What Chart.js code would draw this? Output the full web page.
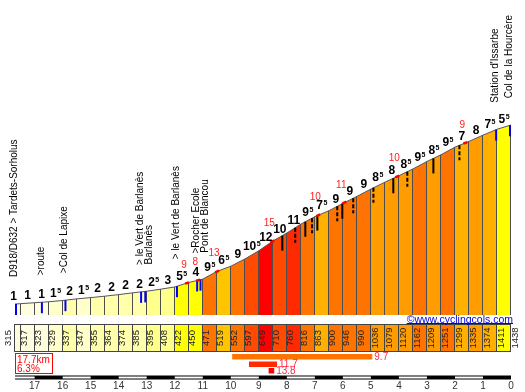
<!DOCTYPE html>
<html>
<head>
<meta charset="utf-8">
<script src="https://cdn.jsdelivr.net/npm/chart.js"></script>
<style>
body { margin: 0; background: #fff; }
canvas { display: block; }
</style>
</head>
<body>
<canvas id="perfil" width="525" height="392"></canvas>
<script>
// km restantes en cada cambio de tramo y altitud ahi
const kmMarks = [17.7, 17.5, 17, 16.5, 16, 15.5, 15, 14.5, 14, 13.5, 13, 12.5, 12, 11.5, 11, 10.5, 10, 9.5, 9, 8.5, 8, 7.5, 7, 6.5, 6, 5.5, 5, 4.5, 4, 3.5, 3, 2.5, 2, 1.5, 1, 0.5, 0];
const altitudes = [315, 317, 323, 329, 337, 347, 355, 364, 374, 385, 395, 408, 422, 450, 471, 519, 552, 597, 649, 710, 760, 816, 863, 900, 946, 990, 1036, 1079, 1120, 1162, 1209, 1251, 1299, 1335, 1374, 1411, 1438];
// pendiente media de cada tramo
const gradients = [1, 1, 1, 1.5, 2, 1.5, 2, 2, 2, 2, 2.5, 3, 5.5, 4, 9.5, 6.5, 9, 10.5, 12, 10, 11, 9.5, 7.5, 9, 9, 9, 8.5, 8, 8.5, 9.5, 8.5, 9.5, 7, 8, 7.5, 5.5];
const kmTicks = [17, 16, 15, 14, 13, 12, 11, 10, 9, 8, 7, 6, 5, 4, 3, 2, 1, 0];

const placeNames = ['D918/D632 > Tardets-Sorholus', '>route', '>Col de Lapixe', '> le Vert de Barlanès', 'Barlanès', '> le Vert de Barlanès', '>Rocher Ecole', 'Pont de Blancou', "Station d'Issarbe", 'Col de la Hourcère'];
const placeKm = [17.68, 16.74, 15.9, 13.2, 13.05, 11.92, 11.2, 11.08, 0.53, 0.03];

const hairpinKm = [8.16, 7.34, 6.91, 6.02, 4.2, 2.77];
const hairpinDashKm = [7.7, 7.1, 6.2, 5.63, 4.91, 3.7, 1.84];

// max 100 m
const steep100Km = [11.56, 11.16, 10.49, 8.52, 6.88, 5.95, 4.06, 1.63];
const steep100Val = [9, 8, 13, 15, 10, 11, 10, 9];

// tramos mas duros (5 km, 1 km, 200 m)
const steepFrom = [9.95, 9.35, 8.65];
const steepTo = [4.95, 8.35, 8.45];
const steepVal = [9.7, 11.7, 13.8];

const climbLength = 17.7;
const climbAvg = 6.3;

function colorPendiente(p) {
  if (p >= 12) return '#ff0000';
  if (p >= 11) return '#ff2a00';
  if (p >= 10) return '#ff4a00';
  if (p >= 9) return '#ff7400';
  if (p >= 8) return '#ff9c00';
  if (p >= 7) return '#ffb000';
  if (p >= 6) return '#ffc400';
  if (p >= 4) return '#ffff00';
  if (p >= 2.5) return '#ffff8c';
  if (p >= 2) return '#ffffac';
  if (p >= 1.5) return '#ffffcc';
  return '#ffffe0';
}

function altEn(k) {
  if (k >= kmMarks[0]) return altitudes[0];
  for (let i = 1; i < kmMarks.length; i++) {
    if (k >= kmMarks[i]) {
      const t = (kmMarks[i - 1] - k) / (kmMarks[i - 1] - kmMarks[i]);
      return altitudes[i - 1] + t * (altitudes[i] - altitudes[i - 1]);
    }
  }
  return altitudes[altitudes.length - 1];
}

const fuente = '"Liberation Sans", Arial, sans-serif';

const extras = {
  id: 'extras',
  afterDatasetsDraw(chart) {
    const ctx = chart.ctx;
    const xs = chart.scales.x, ys = chart.scales.y;
    const base = chart.chartArea.bottom;
    const px = k => xs.getPixelForValue(k);
    const py = k => ys.getPixelForValue(altEn(k));
    ctx.save();

    // separadores de tramos
    ctx.strokeStyle = '#4d4d4d';
    ctx.lineWidth = 1;
    for (let i = 1; i < kmMarks.length; i++) {
      const x = Math.round(px(kmMarks[i])) - 0.5;
      ctx.beginPath();
      ctx.moveTo(x, ys.getPixelForValue(altitudes[i]));
      ctx.lineTo(x, base);
      ctx.stroke();
    }

    // lugares (azul)
    ctx.strokeStyle = '#0000ff';
    ctx.lineWidth = 2;
    placeKm.forEach(k => {
      const x = Math.min(Math.max(px(k), chart.chartArea.left + 1), chart.chartArea.right - 1);
      ctx.beginPath();
      ctx.moveTo(x, py(k));
      ctx.lineTo(x, py(k) + 11);
      ctx.stroke();
    });

    // curvas
    ctx.strokeStyle = '#000';
    hairpinKm.forEach(k => {
      ctx.beginPath();
      ctx.moveTo(px(k), py(k));
      ctx.lineTo(px(k), py(k) + 15);
      ctx.stroke();
    });
    ctx.setLineDash([4, 2]);
    hairpinDashKm.forEach(k => {
      ctx.beginPath();
      ctx.moveTo(px(k), py(k));
      ctx.lineTo(px(k), py(k) + 15);
      ctx.stroke();
    });
    ctx.setLineDash([]);

    // max 100 m
    ctx.strokeStyle = '#ff0000';
    ctx.lineWidth = 2.5;
    ctx.fillStyle = '#ff2020';
    ctx.font = '10px ' + fuente;
    ctx.textAlign = 'center';
    ctx.textBaseline = 'alphabetic';
    steep100Km.forEach((k, i) => {
      ctx.beginPath();
      ctx.moveTo(px(k + 0.07), py(k + 0.07));
      ctx.lineTo(px(k - 0.07), py(k - 0.07));
      ctx.stroke();
      ctx.fillText(String(steep100Val[i]), px(k) - 3, py(k) - 15);
    });

    // pendiente de cada tramo
    ctx.fillStyle = '#000';
    gradients.forEach((g, i) => {
      const k = Math.min(kmMarks[i + 1] + 0.25, kmMarks[0]);
      const cx = px(kmMarks[i + 1] + 0.25);
      const yb = py(k) - 4.5;
      const ent = String(Math.floor(g));
      const medio = g % 1 !== 0;
      ctx.font = 'bold 12px ' + fuente;
      const w1 = ctx.measureText(ent).width;
      ctx.font = 'bold 7px ' + fuente;
      const w2 = medio ? ctx.measureText('5').width + 0.5 : 0;
      const x0 = cx - (w1 + w2) / 2;
      ctx.textAlign = 'left';
      ctx.font = 'bold 12px ' + fuente;
      ctx.fillText(ent, x0, yb);
      if (medio) {
        ctx.font = 'bold 7px ' + fuente;
        ctx.fillText('5', x0 + w1 + 0.5, yb - 4);
      }
    });

    // nombres de lugares (vertical)
    ctx.font = '10px ' + fuente;
    ctx.fillStyle = '#000';
    ctx.textAlign = 'left';
    ctx.textBaseline = 'middle';
    let prevX = -100;
    placeNames.forEach((name, i) => {
      const k = placeKm[i];
      let x = Math.min(px(k), chart.chartArea.right - 1);
      if (x - prevX < 9) x = prevX + 9;
      prevX = x;
      ctx.save();
      ctx.translate(x - 1, py(k) - 27);
      ctx.rotate(-Math.PI / 2);
      ctx.fillText(name, 0, 0);
      ctx.restore();
    });
    ctx.restore();
  },
  afterDraw(chart) {
    const ctx = chart.ctx;
    const xs = chart.scales.x;
    const px = k => xs.getPixelForValue(k);
    const left = chart.chartArea.left, right = chart.chartArea.right;
    ctx.save();

    // fila de altitudes
    ctx.lineWidth = 1;
    ctx.strokeStyle = '#444';
    for (let i = 0; i < gradients.length; i++) {
      const x0 = Math.round(px(kmMarks[i])) - 0.5;
      const x1 = Math.round(px(kmMarks[i + 1])) - 0.5;
      ctx.fillStyle = colorPendiente(gradients[i]);
      ctx.fillRect(x0, 324.5, x1 - x0, 27);
      ctx.strokeRect(x0, 324.5, x1 - x0, 27);
    }
    ctx.font = '9.5px ' + fuente;
    ctx.fillStyle = '#222';
    ctx.textAlign = 'center';
    ctx.textBaseline = 'middle';
    altitudes.forEach((a, i) => {
      const x = i === 0 ? px(kmMarks[0]) - 7 : px(kmMarks[i]) + 4;
      ctx.save();
      ctx.translate(x, 338);
      ctx.rotate(-Math.PI / 2);
      ctx.fillText(String(a), 0, 0);
      ctx.restore();
    });

    // marca
    ctx.font = '10.5px ' + fuente;
    ctx.fillStyle = '#0000e0';
    ctx.textAlign = 'right';
    ctx.textBaseline = 'alphabetic';
    const marca = '©www.cyclingcols.com';
    const wm = ctx.measureText(marca).width;
    ctx.fillText(marca, right + 2, 322.5);
    ctx.strokeStyle = '#0000e0';
    ctx.beginPath();
    ctx.moveTo(right + 2 - wm, 323.5);
    ctx.lineTo(right + 2, 323.5);
    ctx.stroke();

    // resumen
    ctx.fillStyle = '#fff';
    ctx.fillRect(left + 0.5, 353.5, 37, 20);
    ctx.strokeStyle = '#ff0000';
    ctx.strokeRect(left + 0.5, 353.5, 37, 20);
    ctx.fillStyle = '#ff0000';
    ctx.font = '10px ' + fuente;
    ctx.textAlign = 'left';
    ctx.fillText(climbLength + 'km', left + 2, 363);
    ctx.fillText(climbAvg + '%', left + 2, 372);

    // tramos mas duros
    const filas = [354, 361.5, 368];
    steepVal.forEach((v, i) => {
      const x0 = px(steepFrom[i]), x1 = px(steepTo[i]);
      ctx.fillStyle = colorPendiente(v);
      ctx.fillRect(x0, filas[i], x1 - x0, 5.5);
      ctx.fillStyle = '#ff2a4a';
      ctx.textBaseline = 'middle';
      ctx.fillText(v.toFixed(1), x1 + 2, filas[i] + 3);
    });

    // barra de km
    ctx.fillStyle = '#000';
    ctx.fillRect(left, 375.5, right - left, 4);
    ctx.fillStyle = '#fff';
    for (let k = 1; k < kmMarks[0]; k += 2) {
      const x0 = px(Math.min(k + 1, kmMarks[0])), x1 = px(k);
      ctx.fillRect(x0, 376.5, x1 - x0, 2);
    }
    ctx.restore();
  }
};

new Chart(document.getElementById('perfil'), {
  type: 'line',
  data: {
    datasets: [{
      data: kmMarks.map((k, i) => ({ x: k, y: altitudes[i] })),
      borderColor: '#555',
      borderWidth: 1,
      pointRadius: 0,
      fill: 'start',
      backgroundColor: '#ffffe0',
      segment: {
        backgroundColor: c => colorPendiente(gradients[c.p0DataIndex])
      }
    }]
  },
  options: {
    responsive: false,
    animation: false,
    events: [],
    layout: { padding: { left: 15, right: 14, top: 0, bottom: 0 } },
    plugins: { legend: { display: false }, tooltip: { enabled: false } },
    scales: {
      x: {
        type: 'linear',
        reverse: true,
        min: 0,
        max: 17.7,
        grid: { display: true, drawOnChartArea: false, drawTicks: true, tickLength: 65, color: 'rgba(0,0,0,0)' },
        border: { display: false },
        afterBuildTicks: s => { s.ticks = kmTicks.map(v => ({ value: v })); },
        afterFit: s => { s.height = 77; },
        ticks: {
          padding: 0,
          autoSkip: false,
          maxRotation: 0,
          color: '#333',
          font: { family: 'Liberation Sans', size: 10 },
          callback: v => String(v)
        }
      },
      y: {
        display: false,
        min: 246,
        max: 2222
      }
    }
  },
  plugins: [extras]
});
</script>
</body>
</html>
